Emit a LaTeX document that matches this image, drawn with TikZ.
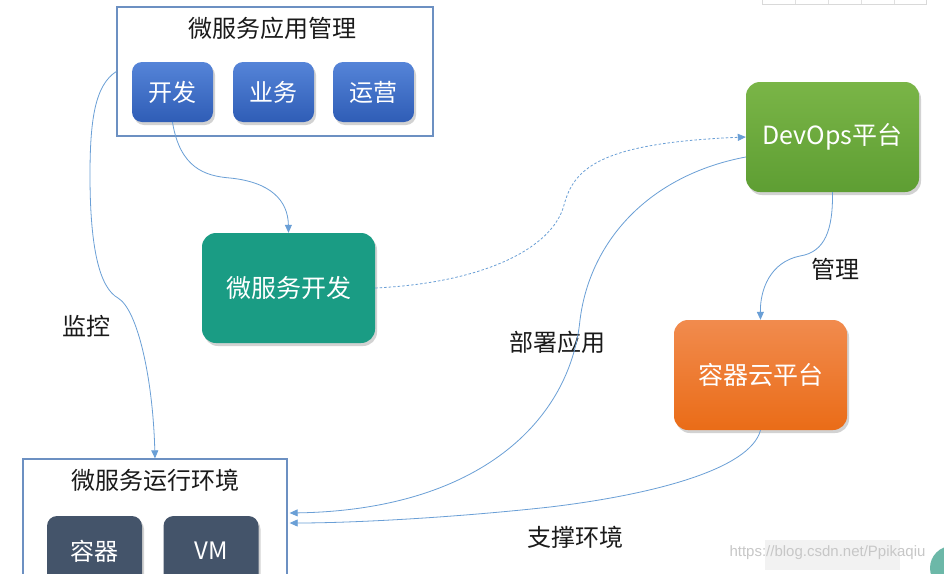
\documentclass[tikz,border=0pt]{standalone}
\usepackage{fontspec}
\setmainfont{Noto Sans CJK SC}
\newfontfamily\wmfont{Liberation Sans}
\usetikzlibrary{arrows.meta,shadows,calc}
\definecolor{linec}{HTML}{6A9FD6}
\definecolor{framec}{HTML}{6C90C2}
\definecolor{slate}{HTML}{44546A}
\definecolor{txt}{HTML}{1A1A1A}
\definecolor{bluetop}{HTML}{5584D8}
\definecolor{bluebot}{HTML}{2F5DB6}
\definecolor{greentop}{HTML}{7AB547}
\definecolor{greenbot}{HTML}{5E9E33}
\definecolor{orangetop}{HTML}{F18B4E}
\definecolor{orangebot}{HTML}{EA6C17}
\definecolor{tealc}{HTML}{1A9C84}
\definecolor{iconc}{HTML}{6CB8A8}
\tikzset{
  big/.style={font=\fontsize{24}{28}\selectfont},
  cardfont/.style={font=\fontsize{25}{29}\selectfont},
  frame/.style={draw=framec, line width=1.3pt, fill=white, minimum width=#1},
  btnblue/.style={big, text=white, rounded corners=10pt, minimum width=81pt, minimum height=60pt,
     top color=bluetop, bottom color=bluebot,
     drop shadow={shadow xshift=2pt, shadow yshift=-3pt, opacity=0.35}},
  card/.style={cardfont, text=white, rounded corners=14pt, minimum width=173pt, minimum height=110pt,
     drop shadow={shadow xshift=2pt, shadow yshift=-3pt, opacity=0.35}},
  slatebtn/.style={big, text=white, fill=slate, rounded corners=10pt, minimum width=95pt, minimum height=70pt,
     drop shadow={shadow xshift=2pt, shadow yshift=-3pt, opacity=0.35}},
  lbl/.style={big, text=txt},
  conn/.style={draw=linec, line width=0.8pt, -{Triangle[length=8pt,width=7pt]}},
}
\begin{document}
\begin{tikzpicture}[x=1pt,y=-1pt]
\useasboundingbox (0,0) rectangle (944,573);
\clip (0,0) rectangle (944,573);
\fill[white] (0,0) rectangle (944,573);

% faint table remnant at top right
\draw[black!15, line width=0.8pt] (762,-2) -- (762,4) -- (926,4) -- (926,-2);
\foreach \xx in {795,828,861,894} \draw[black!12, line width=0.6pt] (\xx,-2) -- (\xx,4);

% top management box
\node[frame=316pt, minimum height=129pt] (mgmt) at (275,71.5) {};
\node[lbl] (mgmttitle) at (272,28) {微服务应用管理};
\node[btnblue] (btnDev) at (172.5,92) {开发};
\node[btnblue] (btnBiz) at (273.5,92) {业务};
\node[btnblue] (btnOps) at (373.5,92) {运营};

% cards
\node[card, fill=tealc] (msdev) at (288.5,288) {微服务开发};
\node[card, top color=greentop, bottom color=greenbot] (devops) at (832.5,137) {DevOps平台};
\node[card, top color=orangetop, bottom color=orangebot] (cloud) at (760.5,375) {容器云平台};

% runtime box (runs off the bottom edge)
\node[frame=264pt, minimum height=141pt] (runenv) at (155,529.5) {};
\node[lbl] (runtitle) at (155,480) {微服务运行环境};
\node[slatebtn] (ctr) at (94.5,551) {容器};
\node[slatebtn] (vm) at (211,551) {VM};

% labels
\node[lbl] (lmon) at (86,326) {监控};
\node[lbl] (ldeploy) at (557,342) {部署应用};
\node[lbl] (lmanage) at (835,269) {管理};
\node[lbl] (lsupport) at (575,537) {支撑环境};

% connectors
\coordinate (mon1) at (90,175);
\coordinate (mon2) at (118,298);
\draw[conn] (mgmt.west) .. controls (95,85) and (90,120) .. (mon1)
  .. controls (90,250) and (100,288) .. (mon2)
  .. controls (138,310) and (153,380) .. (runenv.north);

\coordinate (dv1) at (230,178);
\draw[conn] (btnDev.south) .. controls (180,168) and (205,176) .. (dv1)
  .. controls (270,182) and (288,200) .. (msdev.north);

\coordinate (dt1) at (564,205);
\draw[conn, dash pattern=on 2.5pt off 2pt] (msdev.east) .. controls (480,283) and (552,250) .. (dt1)
  .. controls (574,168) and (600,143) .. (devops.west);

\coordinate (dp0) at ($(devops.west)+(0,20)$);
\coordinate (dp1) at (580,320);
\draw[conn] (dp0) .. controls (650,175) and (590,240) .. (dp1)
  .. controls (570,420) and (480,510) .. ($(runenv.east)+(2,-16.5)$);

\coordinate (mg1) at (800,256);
\draw[conn] (devops.south) .. controls (833,230) and (825,252) .. (mg1)
  .. controls (770,262) and (760,290) .. (cloud.north);

\coordinate (sp1) at (550,507);
\draw[conn] (cloud.south) .. controls (750,470) and (650,495) .. (sp1)
  .. controls (450,518) and (350,523) .. ($(runenv.east)+(2,-6.5)$);

% watermark
\fill[black!5] (765,540) rectangle (900,570);
\node[font=\wmfont\fontsize{15}{17}\selectfont, text=black!22, anchor=west] (wm) at (726,553) {https://blog.csdn.net/Ppikaqiu};
\fill[iconc] (952,568) circle (22pt);
\end{tikzpicture}
\end{document}
